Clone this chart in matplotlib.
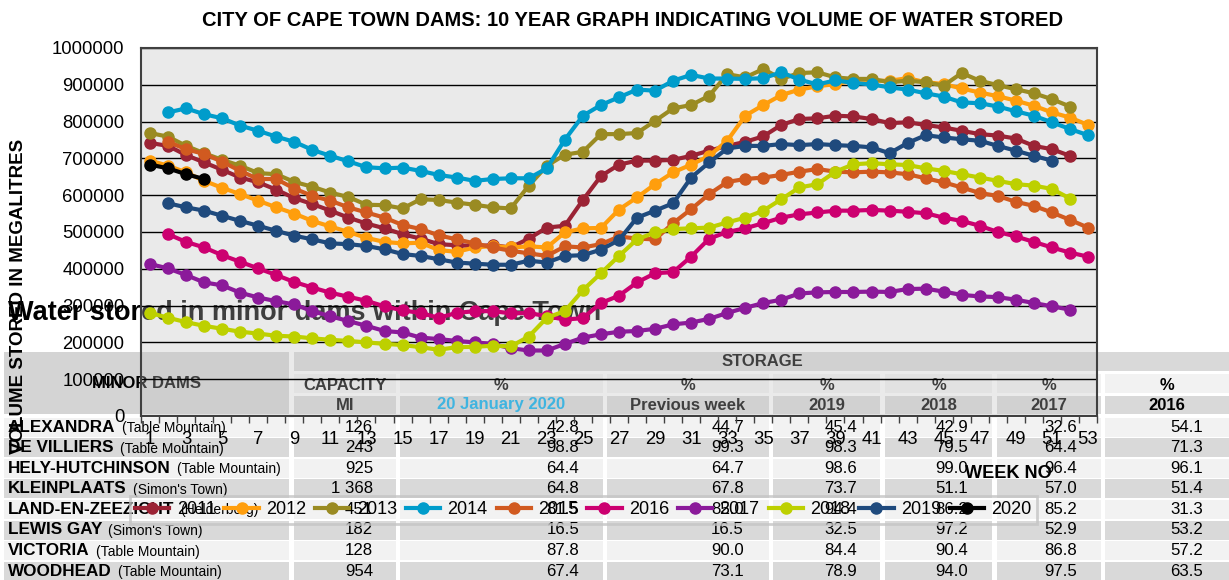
import matplotlib
matplotlib.use('Agg')
import matplotlib.pyplot as plt
import numpy as np
from matplotlib.patches import Rectangle

plt.rcParams['font.family'] = ['Liberation Sans', 'DejaVu Sans']

# ---------------- chart data (megalitres, by week number) ----------------
years = ['2011', '2012', '2013', '2014', '2015', '2016', '2017', '2018', '2019', '2020']
start_week = [1, 1, 1, 2, 2, 2, 1, 1, 2, 1]

vol_2011 = [742000, 734000, 709000, 689000, 669000, 648000, 635000, 615000, 592000, 576000,
            558000, 539000, 523000, 510000, 494000, 482000, 467000, 464000, 462000, 464000,
            458000, 482000, 512000, 517000, 587000, 652000, 683000, 694000, 694000, 696000,
            707000, 721000, 734000, 745000, 760000, 791000, 807000, 809000, 816000, 814000,
            807000, 796000, 798000, 791000, 784000, 775000, 766000, 762000, 754000, 734000,
            725000, 707000]
vol_2012 = [694000, 680000, 662000, 639000, 620000, 603000, 585000, 567000, 550000, 530000,
            515000, 500000, 484000, 473000, 469000, 471000, 451000, 446000, 458000, 462000,
            458000, 461000, 458000, 499000, 510000, 511000, 561000, 594000, 630000, 662000,
            683000, 707000, 748000, 816000, 845000, 872000, 887000, 896000, 902000, 911000,
            911000, 911000, 918000, 907000, 902000, 890000, 879000, 869000, 857000, 843000,
            825000, 811000, 791000]
vol_2013 = [769000, 759000, 734000, 714000, 696000, 680000, 660000, 657000, 636000, 623000,
            607000, 595000, 574000, 573000, 564000, 589000, 587000, 580000, 574000, 567000,
            564000, 626000, 680000, 710000, 718000, 766000, 766000, 769000, 802000, 836000,
            845000, 870000, 929000, 920000, 943000, 916000, 932000, 934000, 920000, 916000,
            916000, 907000, 911000, 907000, 898000, 932000, 911000, 899000, 888000, 877000,
            861000, 841000]
vol_2014 = [825000, 836000, 820000, 809000, 789000, 775000, 759000, 745000, 723000, 707000,
            692000, 676000, 673000, 675000, 666000, 655000, 648000, 639000, 644000, 646000,
            646000, 673000, 751000, 816000, 845000, 866000, 887000, 884000, 911000, 927000,
            917000, 917000, 916000, 918000, 934000, 914000, 901000, 912000, 905000, 901000,
            893000, 887000, 877000, 868000, 852000, 850000, 841000, 828000, 816000, 798000,
            780000, 763000]
vol_2015 = [745000, 725000, 712000, 691000, 666000, 644000, 644000, 618000, 598000, 585000,
            567000, 553000, 539000, 519000, 508000, 491000, 480000, 469000, 458000, 449000,
            442000, 435000, 461000, 458000, 467000, 488000, 482000, 480000, 524000, 562000,
            603000, 636000, 644000, 648000, 655000, 664000, 671000, 664000, 662000, 664000,
            662000, 657000, 646000, 635000, 621000, 606000, 598000, 582000, 571000, 553000,
            533000, 512000]
vol_2016 = [494000, 473000, 458000, 437000, 419000, 401000, 383000, 364000, 349000, 335000,
            324000, 313000, 298000, 287000, 280000, 267000, 280000, 285000, 285000, 279000,
            280000, 271000, 262000, 266000, 307000, 327000, 363000, 388000, 391000, 433000,
            482000, 500000, 510000, 524000, 539000, 548000, 553000, 558000, 558000, 560000,
            558000, 555000, 551000, 539000, 530000, 517000, 500000, 488000, 473000, 458000,
            444000, 433000]
vol_2017 = [413000, 401000, 383000, 363000, 355000, 335000, 322000, 312000, 303000, 285000,
            271000, 258000, 245000, 231000, 227000, 213000, 209000, 204000, 200000, 196000,
            184000, 178000, 178000, 196000, 213000, 222000, 229000, 231000, 237000, 249000,
            254000, 264000, 280000, 294000, 307000, 316000, 333000, 336000, 337000, 337000,
            338000, 337000, 345000, 346000, 338000, 329000, 325000, 323000, 316000, 307000,
            298000, 289000]
vol_2018 = [280000, 267000, 255000, 245000, 237000, 229000, 224000, 218000, 216000, 211000,
            207000, 204000, 200000, 196000, 193000, 187000, 180000, 187000, 188000, 191000,
            189000, 216000, 267000, 285000, 342000, 388000, 435000, 480000, 499000, 508000,
            510000, 512000, 526000, 539000, 558000, 589000, 621000, 630000, 664000, 684000,
            687000, 684000, 682000, 673000, 666000, 657000, 648000, 639000, 630000, 626000,
            617000, 591000]
vol_2019 = [578000, 567000, 558000, 544000, 530000, 517000, 503000, 490000, 480000, 469000,
            467000, 462000, 453000, 440000, 435000, 426000, 417000, 414000, 411000, 411000,
            422000, 417000, 435000, 437000, 452000, 478000, 539000, 558000, 578000, 648000,
            689000, 727000, 734000, 734000, 739000, 736000, 739000, 736000, 734000, 730000,
            714000, 742000, 763000, 757000, 752000, 748000, 734000, 721000, 707000, 694000]
vol_2020 = [683000, 673000, 657000, 644000]

series = [vol_2011, vol_2012, vol_2013, vol_2014, vol_2015,
          vol_2016, vol_2017, vol_2018, vol_2019, vol_2020]
colors = ['#9B2335', '#FF9E0D', '#9A8B22', '#009CCB', '#D15A20',
          '#CC0070', '#8B1A9A', '#BDD000', '#1F4A7D', '#000000']

yticks = [0, 100000, 200000, 300000, 400000, 500000, 600000, 700000, 800000, 900000, 1000000]
xtick_weeks = list(range(1, 54, 2))

# ---------------- table data ----------------
dam_names = ['ALEXANDRA', 'DE VILLIERS', 'HELY-HUTCHINSON', 'KLEINPLAATS',
             'LAND-EN-ZEEZICHT', 'LEWIS GAY', 'VICTORIA', 'WOODHEAD']
dam_areas = ['(Table Mountain)', '(Table Mountain)', '(Table Mountain)', "(Simon's Town)",
             '(Helderberg)', "(Simon's Town)", '(Table Mountain)', '(Table Mountain)']
capacity = ['126', '243', '925', '1 368', '451', '182', '128', '954']
pct_now = ['42.8', '98.8', '64.4', '64.8', '81.5', '16.5', '87.8', '67.4']
pct_prev = ['44.7', '99.3', '64.7', '67.8', '85.0', '16.5', '90.0', '73.1']
pct_2019 = ['45.4', '98.3', '98.6', '73.7', '94.4', '32.5', '84.4', '78.9']
pct_2018 = ['42.9', '79.5', '99.0', '51.1', '86.2', '97.2', '90.4', '94.0']
pct_2017 = ['32.6', '64.4', '96.4', '57.0', '85.2', '52.9', '86.8', '97.5']
pct_2016 = ['54.1', '71.3', '96.1', '51.4', '31.3', '53.2', '57.2', '63.5']
col_heads = ['CAPACITY', '%', '%', '%', '%', '%', '%']
col_subs = ['MI', '20 January 2020', 'Previous week', '2019', '2018', '2017', '2016']

# ---------------- figure ----------------
W, H = 1229, 580
fig = plt.figure(figsize=(W / 100, H / 100), dpi=100)
fig.patch.set_facecolor('white')


def fx(x):
    return x / W


def fy(y):
    return 1 - y / H


def rect(x0, y0, x1, y1, color):
    fig.add_artist(Rectangle((fx(x0), fy(y1)), (x1 - x0) / W, (y1 - y0) / H,
                             transform=fig.transFigure, facecolor=color,
                             edgecolor='none', zorder=-2))


def txt(x, y, s, **kw):
    kw.setdefault('zorder', -1)
    kw.setdefault('va', 'center')
    return fig.text(fx(x), fy(y), s, **kw)


# table layout (pixels)
col_x = [(4, 289), (294, 396), (400, 603), (607, 769), (773, 880), (885, 992), (997, 1101), (1105, 1229)]
num_right = [373, 579, 744, 857, 968, 1077, 1203]
LIGHT, DARK, HEAD = '#f2f2f2', '#d9d9d9', '#d4d4d4'

# table title
txt(8, 313, 'Water stored in minor dams within Cape Town', fontsize=19.5,
    fontweight='bold', color='black')

# header
rect(4, 352, 289, 414, HEAD)
rect(294, 352, 1229, 371, DARK)
txt(762, 362, 'STORAGE', fontsize=12, fontweight='bold', ha='center')
txt(147, 383, 'MINOR DAMS', fontsize=12, fontweight='bold', ha='center')
for i in range(1, 8):
    x0, x1 = col_x[i]
    rect(x0, 374, x1, 393, LIGHT)
    rect(x0, 396, x1, 414, DARK)
    cx = (x0 + x1) / 2
    txt(cx, 385, col_heads[i - 1], fontsize=12, fontweight='bold', ha='center')
    sub_color = '#00AEF0' if i == 2 else 'black'
    txt(cx, 405, col_subs[i - 1], fontsize=12, fontweight='bold', ha='center', color=sub_color)

# rows
cols_vals = [capacity, pct_now, pct_prev, pct_2019, pct_2018, pct_2017, pct_2016]
renderer = fig.canvas.get_renderer()
for r in range(len(dam_names)):
    top = 417.5 + 20.6 * r
    cy = top + 9.5
    color = LIGHT if r % 2 == 0 else DARK
    for (x0, x1) in col_x:
        rect(x0, top, x1, top + 19, color)
    t = txt(8, cy, dam_names[r], fontsize=12.3, fontweight='bold')
    bb = t.get_window_extent(renderer=renderer)
    txt(bb.x1 + 6, cy + 1, dam_areas[r], fontsize=10)
    for c in range(7):
        txt(num_right[c], cy, cols_vals[c][r], fontsize=12.1, ha='right')

# ---------------- chart ----------------
ax = fig.add_axes([fx(141), fy(416), (1097 - 141) / W, (416 - 48) / H])
ax.set_facecolor((0.76, 0.76, 0.76, 0.33))

for k, (yr, sw, vals, col) in enumerate(zip(years, start_week, series, colors)):
    x = np.arange(sw, sw + len(vals))
    ax.plot(x, vals, '-o', color=col, lw=3, ms=8, label=yr, zorder=3 + k * 0.1,
            clip_on=False)

ax.set_xlim(0.5, 53.5)
ax.set_ylim(0, 1000000)
ax.set_yticks(yticks)
ax.set_yticklabels([str(v) for v in yticks])
ax.set_xticks(xtick_weeks)
ax.set_xticklabels([str(w) for w in xtick_weeks])
ax.set_xticks(np.arange(0.5, 54, 1), minor=True)
ax.tick_params(axis='x', which='major', length=0, pad=11, labelsize=13.3)
ax.tick_params(axis='x', which='minor', length=5, width=1, color='#404040', direction='out')
ax.tick_params(axis='y', which='both', length=0, pad=12, labelsize=13.3)
ax.grid(axis='y', color='black', lw=1.0, zorder=1)
ax.set_axisbelow(True)
for s in ax.spines.values():
    s.set_color('#404040')
    s.set_linewidth(1.5)

leg = ax.legend(ncol=10, loc='center', bbox_to_anchor=(fx(583.5), fy(510)),
                bbox_transform=fig.transFigure, fontsize=13, frameon=True,
                fancybox=False, handlelength=1.9, handletextpad=0.4,
                columnspacing=0.5, borderpad=0.3, borderaxespad=0)
fr = leg.get_frame()
fr.set_facecolor('none')
fr.set_edgecolor('#c4c4c4')
fr.set_linewidth(2)

fig.text(fx(633), fy(20), 'CITY OF CAPE TOWN DAMS: 10 YEAR GRAPH INDICATING VOLUME OF WATER STORED',
         ha='center', va='center', fontsize=14.5, fontweight='bold')
fig.text(fx(19), fy(296), 'VOLUME STORED IN MEGALITRES', rotation=90, ha='center',
         va='center', fontsize=13.5, fontweight='bold')
fig.text(fx(1008), fy(473), 'WEEK NO', ha='center', va='center', fontsize=13.1,
         fontweight='bold')

fig.savefig('out.png', dpi=100)
